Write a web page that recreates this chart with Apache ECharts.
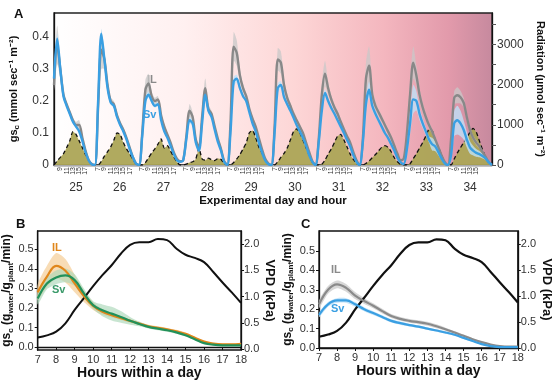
<!DOCTYPE html>
<html><head><meta charset="utf-8">
<script src="https://cdn.jsdelivr.net/npm/echarts@6/dist/echarts.min.js"></script>
<style>html,body{margin:0;padding:0;background:#fff}#c{width:554px;height:383px}</style>
</head><body><div id="c"></div>
<script>
// ---------- Panel A data ----------
const days = ['25','26','27','28','29','30','31','32','33','34'];
const hoursA = [7,8,9,10,11,12,13,14,15,16,17,18,19,20];
const hourTickLabels = [7,9,11,13,15,17];
const gsSvA = [
 0.27,0.395,0.30,0.215,0.185,0.16,0.135,0.12,0.105,0.075,0.04,0.015,0.002,0.0,
 0.2,0.41,0.33,0.24,0.195,0.185,0.15,0.125,0.105,0.08,0.05,0.025,0.005,0.0,
 0.09,0.2,0.22,0.2,0.185,0.19,0.14,0.105,0.085,0.06,0.035,0.015,0.01,0.015,
 0.08,0.14,0.13,0.07,0.045,0.13,0.22,0.17,0.15,0.11,0.072,0.045,0.01,0.0,
 0.1,0.26,0.27,0.24,0.215,0.2,0.165,0.13,0.105,0.07,0.04,0.015,0.003,0.0,
 0.1,0.24,0.25,0.212,0.19,0.17,0.148,0.125,0.105,0.085,0.06,0.03,0.01,0.0,
 0.07,0.17,0.225,0.2,0.178,0.16,0.14,0.12,0.1,0.078,0.058,0.03,0.01,0.0,
 0.07,0.19,0.235,0.185,0.16,0.14,0.12,0.1,0.085,0.065,0.045,0.022,0.008,0.003,
 0.05,0.13,0.205,0.2,0.16,0.13,0.105,0.08,0.065,0.058,0.04,0.02,0.005,0.0,
 0.03,0.13,0.14,0.13,0.11,0.08,0.055,0.045,0.038,0.034,0.028,0.02,0.008,0.0
];
const gsILA = [
 0.25,0.375,0.30,0.22,0.19,0.165,0.14,0.125,0.125,0.085,0.045,0.015,0.003,0.0,
 0.18,0.36,0.33,0.25,0.2,0.19,0.155,0.13,0.11,0.085,0.055,0.025,0.005,0.0,
 0.1,0.235,0.255,0.215,0.2,0.205,0.155,0.12,0.095,0.07,0.04,0.02,0.012,0.015,
 0.09,0.17,0.15,0.08,0.055,0.15,0.24,0.175,0.16,0.12,0.082,0.05,0.012,0.0,
 0.13,0.37,0.35,0.28,0.24,0.215,0.175,0.145,0.12,0.085,0.05,0.02,0.005,0.0,
 0.12,0.33,0.32,0.25,0.21,0.185,0.16,0.14,0.12,0.1,0.07,0.04,0.012,0.0,
 0.08,0.22,0.285,0.24,0.205,0.18,0.16,0.135,0.112,0.09,0.07,0.04,0.015,0.0,
 0.08,0.27,0.31,0.22,0.185,0.165,0.145,0.125,0.105,0.085,0.06,0.035,0.015,0.02,
 0.1,0.22,0.32,0.28,0.22,0.18,0.15,0.125,0.105,0.08,0.055,0.03,0.01,0.0,
 0.08,0.21,0.218,0.212,0.195,0.15,0.11,0.085,0.07,0.058,0.04,0.025,0.008,0.0
];
const gsILErrA = [
 0.02,0.06,0.03,0.01,0.008,0.008,0.008,0.01,0.015,0.01,0.005,0.003,0.002,0.002,
 0.02,0.06,0.03,0.015,0.01,0.01,0.008,0.008,0.008,0.006,0.005,0.003,0.002,0.002,
 0.02,0.03,0.03,0.015,0.01,0.01,0.008,0.008,0.006,0.005,0.004,0.003,0.002,0.002,
 0.01,0.02,0.015,0.01,0.008,0.02,0.03,0.015,0.01,0.008,0.006,0.01,0.004,0.002,
 0.02,0.045,0.04,0.02,0.012,0.01,0.01,0.008,0.008,0.006,0.005,0.003,0.002,0.002,
 0.02,0.035,0.035,0.02,0.012,0.01,0.01,0.008,0.008,0.006,0.005,0.003,0.002,0.002,
 0.02,0.035,0.04,0.02,0.012,0.01,0.01,0.008,0.008,0.006,0.005,0.003,0.002,0.002,
 0.02,0.05,0.06,0.025,0.015,0.01,0.01,0.008,0.008,0.006,0.005,0.003,0.002,0.002,
 0.02,0.04,0.05,0.03,0.02,0.015,0.01,0.01,0.008,0.008,0.006,0.004,0.003,0.002,
 0.02,0.02,0.025,0.02,0.015,0.012,0.01,0.008,0.008,0.006,0.005,0.004,0.003,0.002
];
const gsSvErrA = [
 0.01,0.015,0.01,0.008,0.006,0.006,0.005,0.005,0.005,0.004,0.004,0.003,0.002,0.002,
 0.01,0.015,0.01,0.008,0.006,0.006,0.005,0.005,0.005,0.004,0.004,0.003,0.002,0.002,
 0.01,0.012,0.01,0.008,0.006,0.006,0.005,0.005,0.005,0.004,0.004,0.003,0.002,0.002,
 0.008,0.01,0.01,0.006,0.005,0.008,0.01,0.008,0.006,0.005,0.004,0.003,0.002,0.002,
 0.01,0.015,0.012,0.008,0.006,0.006,0.005,0.005,0.005,0.004,0.004,0.003,0.002,0.002,
 0.01,0.015,0.012,0.008,0.006,0.006,0.005,0.005,0.005,0.004,0.004,0.003,0.002,0.002,
 0.01,0.015,0.012,0.008,0.006,0.006,0.005,0.005,0.005,0.004,0.004,0.003,0.002,0.002,
 0.015,0.02,0.025,0.015,0.01,0.008,0.006,0.005,0.005,0.004,0.004,0.003,0.002,0.002,
 0.02,0.035,0.045,0.03,0.02,0.015,0.012,0.01,0.02,0.015,0.01,0.005,0.003,0.002,
 0.02,0.04,0.045,0.04,0.03,0.025,0.02,0.015,0.012,0.01,0.008,0.005,0.003,0.002
];
const radiationA = [
 0,100,190,280,430,600,830,760,600,430,260,120,30,0,
 0,90,220,330,450,620,800,760,560,400,280,150,30,0,
 0,60,180,300,400,520,650,420,480,350,200,80,0,0,
 20,60,80,150,420,150,120,170,130,110,160,140,40,0,
 0,60,150,260,400,550,800,860,680,450,300,130,30,0,
 0,80,190,290,420,620,830,900,800,620,430,250,70,0,
 0,20,120,270,400,560,720,760,620,450,270,140,40,0,
 0,40,100,180,260,350,440,480,440,330,180,80,10,0,
 0,30,160,280,420,560,720,880,860,620,440,250,50,0,
 0,150,300,430,560,680,820,910,820,600,380,180,50,0
];
const gsTicksA = [0,0.1,0.2,0.3,0.4];
const radTicksA = [0,1000,2000,3000];

// ---------- Panels B & C data ----------
const hoursBC = [7,7.5,8,8.5,9,9.5,10,10.5,11,11.5,12,12.5,13,13.5,14,14.5,15,15.5,16,16.5,17,17.5,18];
const vpd = [0.217,0.26,0.33,0.49,0.745,0.97,1.2,1.41,1.6,1.82,1.99,2.04,2.04,2.1,2.08,1.92,1.8,1.74,1.66,1.47,1.27,1.08,0.88];
const ilB = [0.28,0.36,0.415,0.39,0.325,0.26,0.21,0.18,0.163,0.148,0.134,0.12,0.106,0.098,0.09,0.08,0.068,0.048,0.028,0.018,0.014,0.014,0.017];
const ilBErr = [0.04,0.055,0.065,0.06,0.045,0.03,0.02,0.015,0.012,0.01,0.01,0.008,0.008,0.008,0.008,0.008,0.007,0.006,0.005,0.004,0.004,0.004,0.004];
const svB = [0.248,0.325,0.356,0.366,0.342,0.274,0.214,0.188,0.171,0.154,0.134,0.118,0.103,0.094,0.086,0.075,0.06,0.04,0.02,0.012,0.009,0.009,0.009];
const svBErr = [0.03,0.03,0.035,0.035,0.03,0.025,0.02,0.03,0.035,0.03,0.02,0.012,0.008,0.008,0.008,0.007,0.006,0.005,0.004,0.004,0.003,0.003,0.003];
const ilC = [0.225,0.3,0.328,0.31,0.27,0.242,0.218,0.19,0.165,0.15,0.14,0.133,0.125,0.112,0.097,0.08,0.063,0.045,0.03,0.018,0.01,0.007,0.007];
const ilCErr = [0.02,0.02,0.02,0.02,0.018,0.015,0.013,0.012,0.01,0.01,0.01,0.01,0.01,0.01,0.008,0.007,0.006,0.005,0.004,0.003,0.003,0.003,0.003];
const svC = [0.17,0.225,0.245,0.245,0.225,0.2,0.18,0.16,0.14,0.128,0.118,0.11,0.1,0.09,0.08,0.068,0.052,0.036,0.02,0.01,0.005,0.004,0.004];
const svCErr = [0.012,0.012,0.012,0.012,0.012,0.01,0.01,0.009,0.008,0.008,0.007,0.007,0.006,0.006,0.006,0.005,0.005,0.004,0.003,0.003,0.002,0.002,0.002];
const gsTicksBC = [0,0.1,0.2,0.3,0.4,0.5];
const vpdTicks = [0,0.5,1.0,1.5,2.0];

// ---------- build ----------
const FONT = 'Liberation Sans, Arial, sans-serif';
const catsA = [];
days.forEach(d => hoursA.forEach(h => catsA.push(d + '|' + h)));

// confidence band drawn as one polygon through the axes' own coordinate system
function band(xi, yi, xs, vals, errs, color) {
  const pts = vals.map((v, i) => [xs ? xs[i] : i, v + errs[i], v - errs[i]]);
  return {
    type: 'custom', xAxisIndex: xi, yAxisIndex: yi, clip: true, silent: true, z: 2,
    data: pts.map(p => [p[0], p[1]]),
    renderItem: (params, api) => {
      if (params.dataIndex !== 0) return null;
      const up = pts.map(p => api.coord([p[0], p[1]]));
      const lo = pts.map(p => api.coord([p[0], p[2]])).reverse();
      return { type: 'polygon', shape: { points: up.concat(lo), smooth: 0.25 }, style: { fill: color } };
    }
  };
}
function line(xi, yi, xs, vals, color, width, smooth) {
  return { type: 'line', xAxisIndex: xi, yAxisIndex: yi, data: xs ? vals.map((v, i) => [xs[i], v]) : vals,
    symbol: 'none', smooth: smooth, lineStyle: { color: color, width: width }, z: 4 };
}

const richSub = { sub: { fontSize: 8, fontWeight: 'bold', fontFamily: FONT, padding: [7, 0, 0, 0] } };
const axisBlack = { show: true, lineStyle: { color: '#111', width: 1.3 } };
const lab = (size) => ({ fontSize: size, color: '#333', fontFamily: FONT });

const option = {
  animation: false,
  backgroundColor: '#fff',
  grid: [
    { left: 52, top: 13, width: 440, height: 152, show: true, borderColor: '#222', borderWidth: 1.3,
      backgroundColor: new echarts.graphic.LinearGradient(0, 0, 1, 0, [
        { offset: 0, color: '#ffffff' }, { offset: 0.3, color: '#fff0f0' },
        { offset: 0.55, color: '#fdd6d6' }, { offset: 0.75, color: '#f4b7bf' },
        { offset: 0.9, color: '#e29aab' }, { offset: 1, color: '#c6899e' }]) },
    { left: 36, top: 231, width: 205, height: 119, show: true, borderColor: '#111', borderWidth: 1.3 },
    { left: 319, top: 231, width: 205, height: 117, show: true, borderColor: '#111', borderWidth: 1.3 }
  ],
  xAxis: [
    { gridIndex: 0, type: 'category', data: catsA, boundaryGap: false,
      axisLine: axisBlack, axisTick: { show: false },
      axisLabel: Object.assign(lab(7), { rotate: 90, margin: 2,
        interval: (i, v) => hourTickLabels.indexOf(+v.split('|')[1]) >= 0,
        formatter: v => v.split('|')[1] }) },
    { gridIndex: 0, type: 'category', data: days, position: 'bottom', offset: 13,
      axisLine: { show: true, lineStyle: { color: '#aaa', width: 1 } }, axisTick: { show: false },
      axisLabel: Object.assign(lab(12), { margin: 4 }),
      name: 'Experimental day and hour', nameLocation: 'middle', nameGap: 14,
      nameTextStyle: { fontSize: 11.5, fontWeight: 'bold', color: '#111', fontFamily: FONT } },
    { gridIndex: 1, type: 'value', min: 7, max: 18, interval: 1,
      axisLine: axisBlack, axisTick: { length: 3, lineStyle: { color: '#111' } }, splitLine: { show: false },
      axisLabel: Object.assign(lab(11), { margin: 4 }),
      name: 'Hours within a day', nameLocation: 'middle', nameGap: 15,
      nameTextStyle: { fontSize: 14, fontWeight: 'bold', color: '#111', fontFamily: FONT } },
    { gridIndex: 2, type: 'value', min: 7, max: 18, interval: 1,
      axisLine: axisBlack, axisTick: { length: 3, lineStyle: { color: '#111' } }, splitLine: { show: false },
      axisLabel: Object.assign(lab(11), { margin: 4 }),
      name: 'Hours within a day', nameLocation: 'middle', nameGap: 15,
      nameTextStyle: { fontSize: 14, fontWeight: 'bold', color: '#111', fontFamily: FONT } }
  ],
  yAxis: [
    { gridIndex: 0, type: 'value', min: 0, max: 0.475, splitLine: { show: false },
      axisLine: axisBlack, axisTick: { show: false },
      axisLabel: Object.assign(lab(12), { customValues: gsTicksA, margin: 5,
        formatter: v => v === 0 ? '0' : v.toFixed(1) }),
      name: 'gs{sub|c} (mmol sec⁻¹ m⁻²)', nameLocation: 'middle', nameRotate: 90, nameGap: 33,
      nameTextStyle: { fontSize: 11, fontWeight: 'bold', color: '#111', fontFamily: FONT, rich: richSub } },
    { gridIndex: 0, type: 'value', position: 'right', min: 0, max: 3780, splitLine: { show: false },
      axisLine: axisBlack,
      axisTick: { show: true, length: 4, customValues: [0,500,1000,1500,2000,2500,3000,3500], lineStyle: { color: '#555' } },
      axisLabel: Object.assign(lab(12), { customValues: radTicksA, margin: 5, formatter: v => String(v) }),
      name: 'Radiation (µmol sec⁻¹ m⁻²)', nameLocation: 'middle', nameRotate: -90, nameGap: 36,
      nameTextStyle: { fontSize: 11, fontWeight: 'bold', color: '#111', fontFamily: FONT } },
    { gridIndex: 1, type: 'value', min: -0.015, max: 0.593, splitLine: { show: false },
      axisLine: axisBlack, axisTick: { show: true, length: 3, customValues: gsTicksBC, lineStyle: { color: '#111' } },
      axisLabel: Object.assign(lab(11), { customValues: gsTicksBC, margin: 4, formatter: v => v.toFixed(1) }),
      name: 'gs{sub|c} (g{sub|water}/g{sub|plant}/min)', nameLocation: 'middle', nameRotate: 90, nameGap: 17,
      nameTextStyle: { fontSize: 12, fontWeight: 'bold', color: '#111', fontFamily: FONT, rich: richSub } },
    { gridIndex: 1, type: 'value', position: 'right', min: -0.02, max: 2.254, splitLine: { show: false },
      axisLine: axisBlack, axisTick: { show: true, length: 3, customValues: vpdTicks, lineStyle: { color: '#111' } },
      axisLabel: Object.assign(lab(11), { customValues: vpdTicks, margin: 3, formatter: v => v.toFixed(1) }),
      name: 'VPD (kPa)', nameLocation: 'middle', nameRotate: -90, nameGap: 20,
      nameTextStyle: { fontSize: 13, fontWeight: 'bold', color: '#111', fontFamily: FONT } },
    { gridIndex: 2, type: 'value', min: 0, max: 0.603, splitLine: { show: false },
      axisLine: axisBlack, axisTick: { show: true, length: 3, customValues: gsTicksBC, lineStyle: { color: '#111' } },
      axisLabel: Object.assign(lab(11), { customValues: gsTicksBC, margin: 4, formatter: v => v.toFixed(1) }),
      name: 'gs{sub|c} (g{sub|water}/g{sub|plant}/min)', nameLocation: 'middle', nameRotate: 90, nameGap: 24,
      nameTextStyle: { fontSize: 12, fontWeight: 'bold', color: '#111', fontFamily: FONT, rich: richSub } },
    { gridIndex: 2, type: 'value', position: 'right', min: 0, max: 2.26, splitLine: { show: false },
      axisLine: axisBlack, axisTick: { show: true, length: 3, customValues: vpdTicks, lineStyle: { color: '#111' } },
      axisLabel: Object.assign(lab(11), { customValues: vpdTicks, margin: 3, formatter: v => v.toFixed(1) }),
      name: 'VPD (kPa)', nameLocation: 'middle', nameRotate: -90, nameGap: 20,
      nameTextStyle: { fontSize: 13, fontWeight: 'bold', color: '#111', fontFamily: FONT } }
  ],
  series: [
    { type: 'line', xAxisIndex: 0, yAxisIndex: 1, data: radiationA, symbol: 'none', smooth: 0.2, z: 1,
      lineStyle: { color: '#111', width: 1.3, type: [4, 3] }, areaStyle: { color: '#aca556', opacity: 0.95 } },
    band(0, 0, null, gsILA, gsILErrA, 'rgba(200,200,200,0.75)'),
    band(0, 0, null, gsSvA, gsSvErrA, 'rgba(190,225,248,0.8)'),
    line(0, 0, null, gsILA, '#888888', 2.4, 0.3),
    line(0, 0, null, gsSvA, '#3a9fe2', 2.4, 0.3),

    band(2, 2, hoursBC, ilB, ilBErr, 'rgba(245,205,150,0.7)'),
    band(2, 2, hoursBC, svB, svBErr, 'rgba(170,215,185,0.65)'),
    line(2, 3, hoursBC, vpd, '#111', 2, 0.4),
    line(2, 2, hoursBC, ilB, '#e0861a', 2.2, 0.4),
    line(2, 2, hoursBC, svB, '#22915a', 2.2, 0.4),

    band(3, 4, hoursBC, ilC, ilCErr, 'rgba(205,205,205,0.8)'),
    band(3, 4, hoursBC, svC, svCErr, 'rgba(185,222,248,0.85)'),
    line(3, 5, hoursBC, vpd, '#111', 2.2, 0.4),
    line(3, 4, hoursBC, ilC, '#8a8a8a', 2.2, 0.4),
    line(3, 4, hoursBC, svC, '#3a9fe2', 2.2, 0.4)
  ],
  graphic: [
    { type: 'text', left: 14, top: 8, style: { text: 'A', font: 'bold 13px ' + FONT, fill: '#111' } },
    { type: 'text', left: 16, top: 218, style: { text: 'B', font: 'bold 13px ' + FONT, fill: '#111' } },
    { type: 'text', left: 301, top: 218, style: { text: 'C', font: 'bold 13px ' + FONT, fill: '#111' } },
    { type: 'text', left: 147, top: 74, style: { text: 'IL', font: 'bold 11px ' + FONT, fill: '#8a8a8a' } },
    { type: 'text', left: 143, top: 109, style: { text: 'Sv', font: 'bold 11px ' + FONT, fill: '#3a9fe2' } },
    { type: 'text', left: 52, top: 242, style: { text: 'IL', font: 'bold 11px ' + FONT, fill: '#e0861a' } },
    { type: 'text', left: 52, top: 284, style: { text: 'Sv', font: 'bold 11px ' + FONT, fill: '#3a9a6a' } },
    { type: 'text', left: 331, top: 264, style: { text: 'IL', font: 'bold 11px ' + FONT, fill: '#8a8a8a' } },
    { type: 'text', left: 331, top: 303, style: { text: 'Sv', font: 'bold 11px ' + FONT, fill: '#3a9fe2' } }
  ]
};
const chart = echarts.init(document.getElementById('c'), null, { renderer: 'canvas' });
chart.setOption(option);
</script></body></html>
